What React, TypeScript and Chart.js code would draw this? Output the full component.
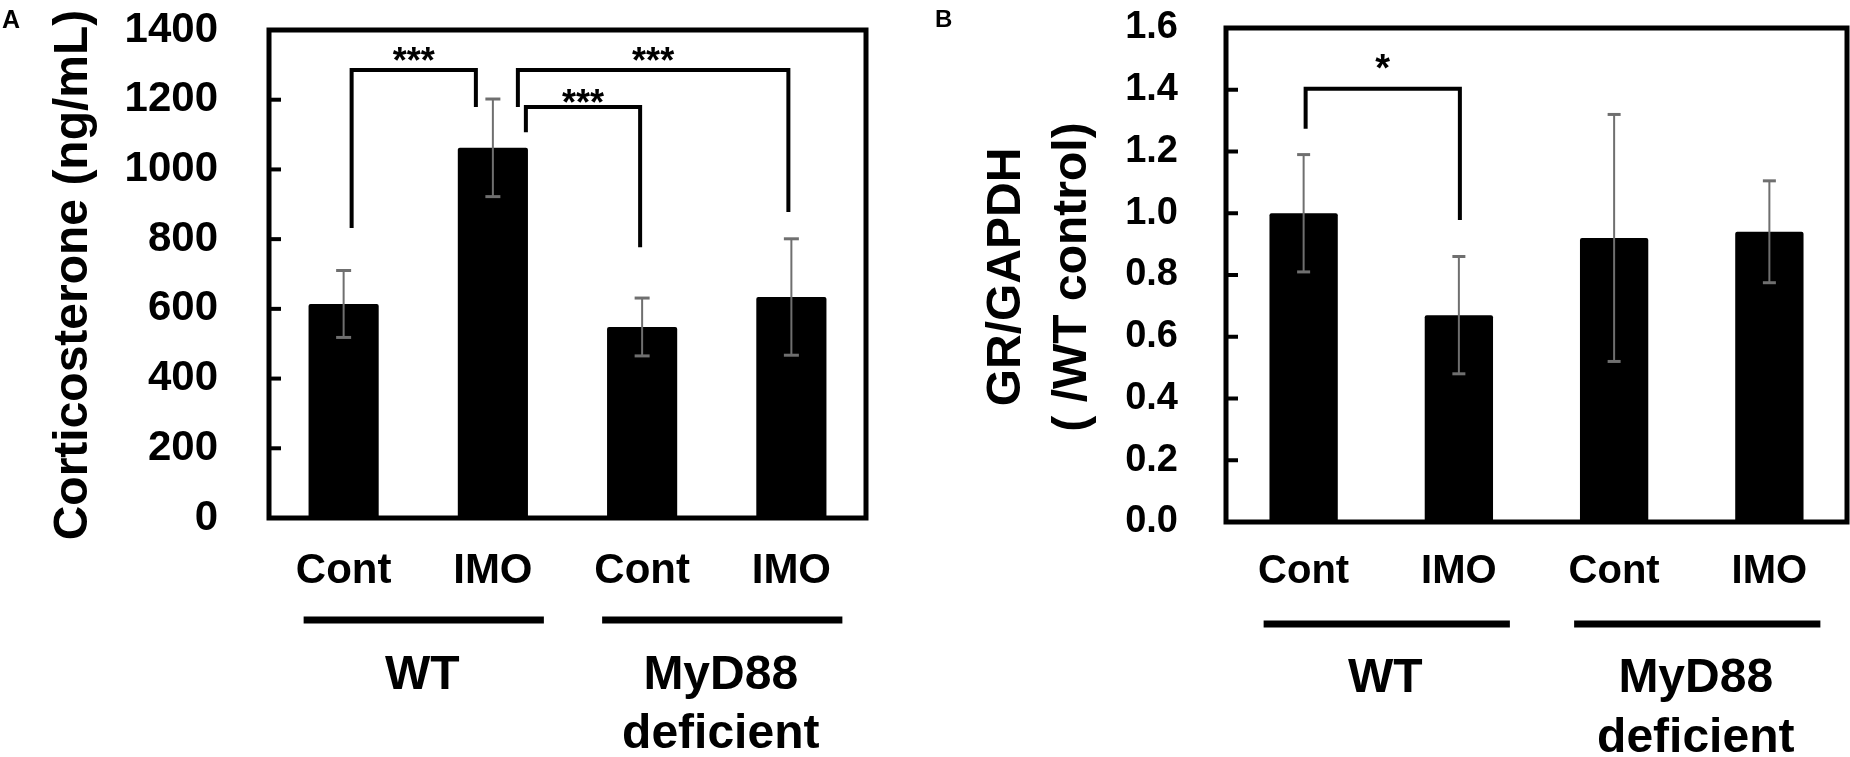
import React, { useEffect, useRef } from 'react';
import { Chart, registerables } from 'chart.js';

Chart.register(...registerables);

const FONT = "'Liberation Sans', Arial, sans-serif";

// categorias e grupos (iguais nos dois painéis)
const categories = ['Cont', 'IMO', 'Cont', 'IMO'];
const groupNames = [['WT'], ['MyD88', 'deficient']];
const groupMembers = [
  [0, 1],
  [2, 3],
];

// Painel A: corticosterona (ng/mL)
const corticoMeans = [614, 1062, 548, 634];
const corticoErrors = [96, 140, 83, 167];
const corticoTicks = [0, 200, 400, 600, 800, 1000, 1200, 1400];

// Painel B: GR/GAPDH relativo ao controle WT
const grMeans = [1.0, 0.67, 0.92, 0.94];
const grErrors = [0.19, 0.19, 0.4, 0.165];
const grTicks = [0, 0.2, 0.4, 0.6, 0.8, 1.0, 1.2, 1.4, 1.6];

// Colchetes de significância (valores no eixo y)
const corticoBrackets = [
  { from: 0, to: 1, fromDx: 8, toDx: -17, fromEnd: 832, toEnd: 1179, top: 1285, text: '***', gap: 17 },
  { from: 1, to: 3, fromDx: 25, toDx: -3, fromEnd: 1179, toEnd: 878, top: 1285, text: '***', gap: 17 },
  { from: 1, to: 2, fromDx: 33, toDx: -2, fromEnd: 1107, toEnd: 777, top: 1179, text: '***', gap: 12 },
];
const grBrackets = [
  { from: 0, to: 1, fromDx: 2, toDx: 1, fromEnd: 1.274, toEnd: 0.978, top: 1.403, text: '*', gap: 29 },
];

interface Bracket {
  from: number;
  to: number;
  fromDx: number;
  toDx: number;
  fromEnd: number;
  toEnd: number;
  top: number;
  text: string;
  gap: number;
}

interface PanelSpec {
  left: number;
  width: number;
  area: { left: number; top: number; right: number; bottom: number };
  means: number[];
  errors: number[];
  ticks: number[];
  decimals: number;
  tickFont: number;
  xFont: number;
  tickPad: number;
  xPad: number;
  barPct: number;
  capHalf: number;
  title: string[];
  titleX: number[];
  titleY: number;
  letter: string;
  letterX: number;
  letterY: number;
  letterFont: number;
  brackets: Bracket[];
  starFont: number;
  groupLineY: number;
  groupTextDy: number[];
}

const H = 757;

const panelA: PanelSpec = {
  left: 0,
  width: 900,
  area: { left: 269, top: 30, right: 866, bottom: 518 },
  means: corticoMeans,
  errors: corticoErrors,
  ticks: corticoTicks,
  decimals: 0,
  tickFont: 42,
  xFont: 42,
  tickPad: 51,
  xPad: 28,
  barPct: 0.47,
  capHalf: 7.5,
  title: ['Corticosterone (ng/mL)'],
  titleX: [87],
  titleY: 275,
  letter: 'A',
  letterX: 2,
  letterY: 28,
  letterFont: 25,
  brackets: corticoBrackets,
  starFont: 36,
  groupLineY: 620,
  groupTextDy: [69, 128],
};

const panelB: PanelSpec = {
  left: 880,
  width: 970,
  area: { left: 346, top: 28, right: 967, bottom: 522 },
  means: grMeans,
  errors: grErrors,
  ticks: grTicks,
  decimals: 1,
  tickFont: 38,
  xFont: 40,
  tickPad: 48,
  xPad: 26,
  barPct: 0.44,
  capHalf: 6.5,
  title: ['GR/GAPDH', '( /WT control)'],
  titleX: [140, 206],
  titleY: 277,
  letter: 'B',
  letterX: 55,
  letterY: 27,
  letterFont: 24,
  brackets: grBrackets,
  starFont: 38,
  groupLineY: 624,
  groupTextDy: [68, 128],
};

function makeOverlay(spec: PanelSpec) {
  return {
    id: 'overlay',
    afterDatasetsDraw(chart: any) {
      const { ctx, chartArea: a } = chart;
      const y = chart.scales.y;
      const bars = chart.getDatasetMeta(0).data;
      const line = (x1: number, y1: number, x2: number, y2: number) => {
        ctx.beginPath();
        ctx.moveTo(x1, y1);
        ctx.lineTo(x2, y2);
        ctx.stroke();
      };
      ctx.save();

      // barras de erro
      ctx.strokeStyle = '#6f6f6f';
      spec.means.forEach((m, i) => {
        const cx = bars[i].x;
        const yt = y.getPixelForValue(m + spec.errors[i]);
        const yb = y.getPixelForValue(m - spec.errors[i]);
        ctx.lineWidth = 2;
        line(cx, yt, cx, yb);
        ctx.lineWidth = 3;
        line(cx - spec.capHalf, yt, cx + spec.capHalf, yt);
        line(cx - spec.capHalf, yb, cx + spec.capHalf, yb);
      });

      // moldura e marcas internas do eixo y
      ctx.strokeStyle = '#000';
      ctx.lineWidth = 5;
      ctx.strokeRect(a.left, a.top, a.right - a.left, a.bottom - a.top);
      ctx.lineWidth = 4;
      const top = spec.ticks[spec.ticks.length - 1];
      y.ticks.forEach((t: any) => {
        if (t.value <= 0 || t.value >= top) return;
        const py = y.getPixelForValue(t.value);
        line(a.left, py, a.left + 12, py);
      });

      // colchetes
      ctx.lineWidth = 4;
      ctx.lineJoin = 'miter';
      ctx.fillStyle = '#000';
      ctx.font = `bold ${spec.starFont}px ${FONT}`;
      ctx.textAlign = 'center';
      ctx.textBaseline = 'alphabetic';
      spec.brackets.forEach((b) => {
        const x1 = bars[b.from].x + b.fromDx;
        const x2 = bars[b.to].x + b.toDx;
        const yTop = y.getPixelForValue(b.top);
        ctx.beginPath();
        ctx.moveTo(x1, y.getPixelForValue(b.fromEnd));
        ctx.lineTo(x1, yTop);
        ctx.lineTo(x2, yTop);
        ctx.lineTo(x2, y.getPixelForValue(b.toEnd));
        ctx.stroke();
        ctx.fillText(b.text, (x1 + x2) / 2, yTop - b.gap + spec.starFont * 0.56);
      });

      // linhas e nomes dos grupos
      ctx.lineWidth = 7;
      ctx.font = `bold 48px ${FONT}`;
      groupMembers.forEach((g, gi) => {
        const xa = bars[g[0]].x;
        const xb = bars[g[1]].x;
        line(xa - 40, spec.groupLineY, xb + 51, spec.groupLineY);
        groupNames[gi].forEach((txt, li) => {
          ctx.fillText(txt, (xa + xb) / 2 + 4, spec.groupLineY + spec.groupTextDy[li]);
        });
      });

      // título do eixo y
      ctx.font = `bold 48px ${FONT}`;
      spec.title.forEach((txt, i) => {
        ctx.save();
        ctx.translate(spec.titleX[i], spec.titleY);
        ctx.rotate(-Math.PI / 2);
        ctx.fillText(txt, 0, 0);
        ctx.restore();
      });

      // letra do painel
      ctx.textAlign = 'left';
      ctx.font = `bold ${spec.letterFont}px ${FONT}`;
      ctx.fillText(spec.letter, spec.letterX, spec.letterY);

      ctx.restore();
    },
  };
}

const BarPanel: React.FC<{ spec: PanelSpec }> = ({ spec }) => {
  const canvasRef = useRef<HTMLCanvasElement | null>(null);

  useEffect(() => {
    if (!canvasRef.current) return;
    const a = spec.area;
    const yMax = spec.ticks[spec.ticks.length - 1];
    const chart = new Chart(canvasRef.current, {
      type: 'bar',
      data: {
        labels: categories,
        datasets: [
          {
            data: spec.means,
            backgroundColor: '#000',
            borderRadius: 2,
            barPercentage: spec.barPct,
            categoryPercentage: 1,
          },
        ],
      },
      options: {
        responsive: false,
        animation: false,
        devicePixelRatio: 1,
        layout: { padding: { left: 0, top: a.top, right: spec.width - a.right, bottom: 0 } },
        plugins: { legend: { display: false }, tooltip: { enabled: false } },
        scales: {
          x: {
            grid: { display: false, drawTicks: false },
            border: { display: false },
            ticks: {
              color: '#000',
              padding: spec.xPad,
              font: { family: FONT, size: spec.xFont, weight: 'bold' },
            },
            afterFit: (s: any) => {
              s.height = H - a.bottom;
              s.paddingLeft = 0;
              s.paddingRight = 0;
            },
          },
          y: {
            min: 0,
            max: yMax,
            afterBuildTicks: (s: any) => {
              s.ticks = spec.ticks.map((v) => ({ value: v }));
            },
            grid: { display: false, drawTicks: false },
            border: { display: false },
            ticks: {
              color: '#000',
              padding: spec.tickPad,
              font: { family: FONT, size: spec.tickFont, weight: 'bold' },
              callback: (v: any) => Number(v).toFixed(spec.decimals),
            },
            afterFit: (s: any) => {
              // a margem dos rótulos não deve empurrar a área do gráfico
              s.width = a.left;
              s.paddingTop = 0;
              s.paddingBottom = 0;
            },
          },
        },
      },
      plugins: [makeOverlay(spec)],
    });
    return () => chart.destroy();
  }, [spec]);

  return (
    <canvas
      ref={canvasRef}
      width={spec.width}
      height={H}
      style={{ position: 'absolute', left: spec.left, top: 0, width: spec.width, height: H }}
    />
  );
};

export default function App() {
  return (
    <div style={{ position: 'fixed', left: 0, top: 0, width: 1850, height: H, background: '#fff' }}>
      <BarPanel spec={panelA} />
      <BarPanel spec={panelB} />
    </div>
  );
}
